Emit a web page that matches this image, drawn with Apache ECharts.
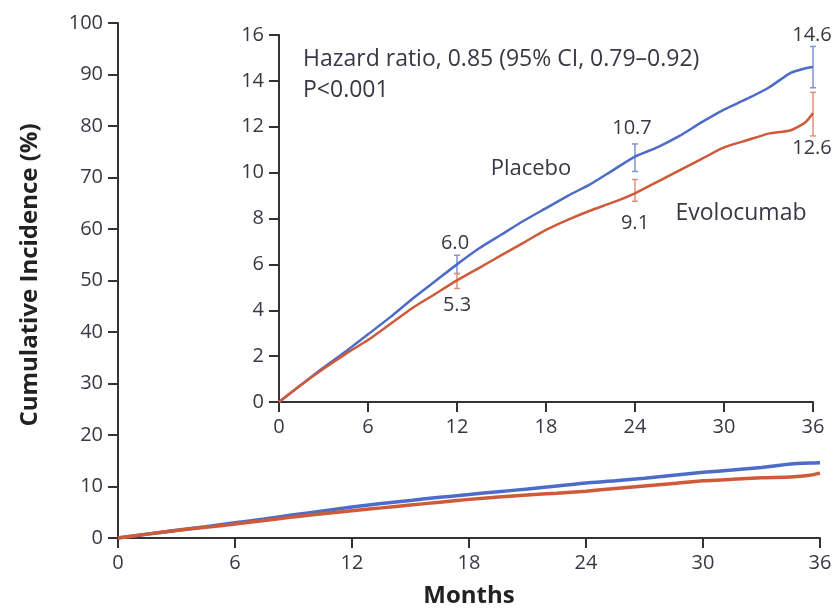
<!DOCTYPE html>
<html>
<head>
<meta charset="utf-8">
<script src="https://cdn.jsdelivr.net/npm/echarts@6/dist/echarts.min.js"></script>
<style>
  html, body { margin: 0; padding: 0; background: #fff; }
  #chart { width: 836px; height: 608px; }
</style>
</head>
<body>
<div id="chart"></div>
<script>
// months and cumulative incidence (%)
var months = [0, 1.5, 3, 4.5, 6, 7.5, 9, 10.5, 12, 13.5, 15, 16.5, 18, 19.5, 21, 22.5, 24, 25.5, 27, 28.5, 30, 31.5, 33, 34.5, 35.5, 36];
var placebo = [0, 0.75, 1.5, 2.2, 2.95, 3.7, 4.5, 5.25, 6.0, 6.7, 7.3, 7.9, 8.45, 9.0, 9.5, 10.1, 10.7, 11.1, 11.6, 12.2, 12.75, 13.2, 13.7, 14.35, 14.55, 14.6];
var evolocumab = [0, 0.75, 1.45, 2.1, 2.7, 3.4, 4.1, 4.7, 5.3, 5.85, 6.4, 6.95, 7.5, 7.95, 8.35, 8.7, 9.1, 9.6, 10.1, 10.6, 11.1, 11.4, 11.7, 11.85, 12.2, 12.6];

// 95% CI bars: [month, low, high]
var placeboCI = [[12, 5.6, 6.4], [24, 10.05, 11.25], [36, 13.7, 15.5]];
var evolocumabCI = [[12, 4.95, 5.6], [24, 8.75, 9.7], [36, 11.6, 13.5]];

var blue = '#4d6cc8';
var red = '#cf5a3a';
var textColor = '#3a3645';
var font = 'Open Sans';

function pairs(xs, ys) {
    var out = [];
    for (var i = 0; i < xs.length; i++) {
        out.push([xs[i], ys[i]]);
    }
    return out;
}

function errorBar(color) {
    return function (params, api) {
        var x = api.value(0);
        var lo = api.coord([x, api.value(1)]);
        var hi = api.coord([x, api.value(2)]);
        var cap = 3;
        var st = { stroke: color, lineWidth: 1.5 };
        return {
            type: 'group',
            children: [
                { type: 'line', shape: { x1: lo[0], y1: lo[1], x2: hi[0], y2: hi[1] }, style: st },
                { type: 'line', shape: { x1: lo[0] - cap, y1: lo[1], x2: lo[0] + cap, y2: lo[1] }, style: st },
                { type: 'line', shape: { x1: hi[0] - cap, y1: hi[1], x2: hi[0] + cap, y2: hi[1] }, style: st }
            ]
        };
    };
}

function label(text, x, y, size, align) {
    return {
        type: 'text', x: x, y: y,
        style: { text: text, fill: textColor, font: size + 'px "Open Sans"', align: align || 'center', verticalAlign: 'middle' }
    };
}

var axisLine = { show: true, lineStyle: { color: '#333', width: 2 } };
var axisTick = { show: true, length: 10, lineStyle: { color: '#333', width: 2 } };

var myChart = echarts.init(document.getElementById('chart'));

var option = {
    animation: false,
    backgroundColor: '#fff',
    grid: [
        { left: 118, top: 23, width: 702, height: 515, outerBoundsMode: 'none' },
        { left: 279, top: 35, width: 534, height: 367, outerBoundsMode: 'none' }
    ],
    xAxis: [
        {
            gridIndex: 0, type: 'value', min: 0, max: 36, interval: 6,
            axisLine: axisLine, axisTick: axisTick, splitLine: { show: false },
            axisLabel: { color: textColor, fontFamily: font, fontSize: 20, margin: 15 },
            name: 'Months', nameLocation: 'middle', nameGap: 46,
            nameTextStyle: { color: '#222', fontFamily: font, fontSize: 24, fontWeight: 'bold', verticalAlign: 'top' }
        },
        {
            gridIndex: 1, type: 'value', min: 0, max: 36, interval: 6,
            axisLine: axisLine, axisTick: axisTick, splitLine: { show: false },
            axisLabel: { color: textColor, fontFamily: font, fontSize: 20, margin: 15 }
        }
    ],
    yAxis: [
        {
            gridIndex: 0, type: 'value', min: 0, max: 100, interval: 10,
            axisLine: axisLine, axisTick: axisTick, splitLine: { show: false },
            axisLabel: { color: textColor, fontFamily: font, fontSize: 20, margin: 15 }
        },
        {
            gridIndex: 1, type: 'value', min: 0, max: 16, interval: 2,
            axisLine: axisLine, axisTick: axisTick, splitLine: { show: false },
            axisLabel: { color: textColor, fontFamily: font, fontSize: 20, margin: 15 }
        }
    ],
    series: [
        {
            name: 'Placebo', type: 'line', xAxisIndex: 0, yAxisIndex: 0,
            data: pairs(months, placebo), showSymbol: false, smooth: 0.2,
            lineStyle: { color: blue, width: 3.5 }
        },
        {
            name: 'Evolocumab', type: 'line', xAxisIndex: 0, yAxisIndex: 0,
            data: pairs(months, evolocumab), showSymbol: false, smooth: 0.2,
            lineStyle: { color: red, width: 3.5 }
        },
        {
            name: 'Placebo inset', type: 'line', xAxisIndex: 1, yAxisIndex: 1,
            data: pairs(months, placebo), showSymbol: false, smooth: 0.2,
            lineStyle: { color: blue, width: 2.5 }
        },
        {
            name: 'Evolocumab inset', type: 'line', xAxisIndex: 1, yAxisIndex: 1,
            data: pairs(months, evolocumab), showSymbol: false, smooth: 0.2,
            lineStyle: { color: red, width: 2.5 }
        },
        {
            type: 'custom', xAxisIndex: 1, yAxisIndex: 1,
            data: placeboCI, renderItem: errorBar('#7f93d6'), z: 1
        },
        {
            type: 'custom', xAxisIndex: 1, yAxisIndex: 1,
            data: evolocumabCI, renderItem: errorBar('#e0907a'), z: 1
        }
    ],
    graphic: [
        {
            type: 'text', x: 30, y: 275, rotation: Math.PI / 2,
            style: { text: 'Cumulative Incidence (%)', fill: '#222', font: 'bold 24px "Open Sans"', align: 'center', verticalAlign: 'middle' }
        },
        label('Hazard ratio, 0.85 (95% CI, 0.79\u20130.92)', 303, 59, 23, 'left'),
        label('P<0.001', 303, 90, 23, 'left'),
        label('Placebo', 531, 169, 22),
        label('Evolocumab', 741, 213, 23),
        label('6.0', 455, 243, 20),
        label('5.3', 457, 305, 20),
        label('10.7', 632, 128, 20),
        label('9.1', 635, 223, 20),
        label('14.6', 812, 35, 20),
        label('12.6', 812, 148, 20)
    ]
};

myChart.setOption(option);
</script>
</body>
</html>
